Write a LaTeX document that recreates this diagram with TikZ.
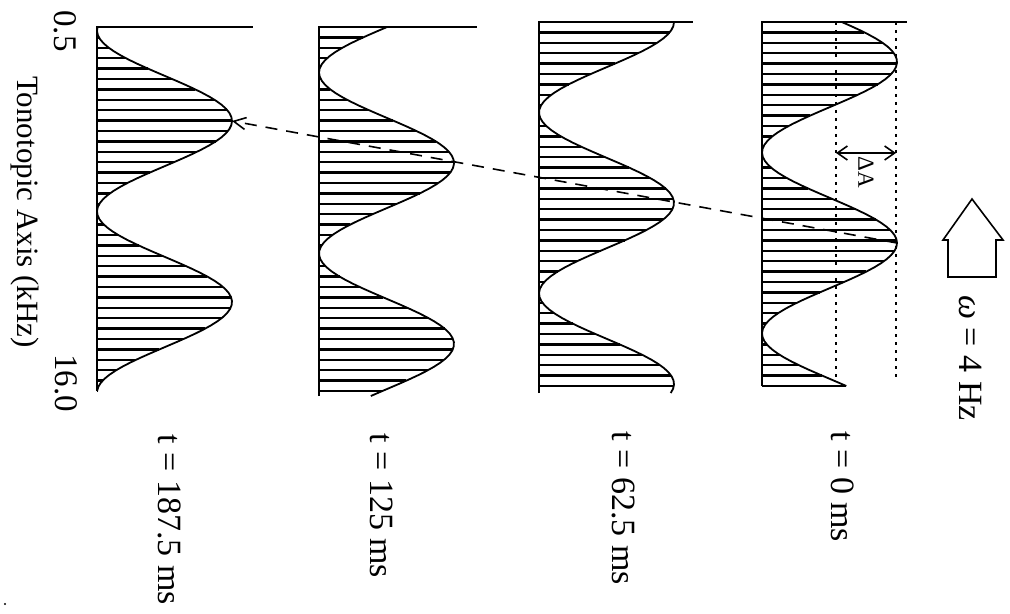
\documentclass[tikz,border=0pt]{standalone}
\usepackage{fontspec}
\setmainfont{Liberation Serif}
\usetikzlibrary{arrows.meta}

\begin{document}
\begin{tikzpicture}[x=0.5pt, y=-0.5pt,
    curve/.style={line width=0.9pt},
    hatch/.style={line width=1.2pt},
    guide/.style={line width=0.9pt, dash pattern=on 1.5pt off 2.5pt},
    trackline/.style={line width=0.8pt, dash pattern=on 6pt off 4.5pt, -{Straight Barb[length=6pt,width=6pt]}},
    lbl/.style={rotate=-90, inner sep=0pt, font=\fontsize{17}{20}\selectfont}]
  \useasboundingbox (0,0) rectangle (1010,614);

  % Panels: base x / top y / bottom y / peak y / end of top line / name
  \foreach \bx/\ty/\by/\py/\ex/\nm in {97/27/391/121/253/A, 319/27/396/163/477/B,
      539/22/393/203/693/C, 762/22/386/243/907/D} {
    \draw[curve] (\bx,\by) -- (\bx,\ty) -- (\ex,\ty);
    \draw[curve] plot[domain=\ty:\by, samples=90, variable=\t]
      ({\bx+67.5*(1+cos(1.98895*(\t-\py)))},\t);
    \pgfmathtruncatemacro\nh{(\by-\ty)/10.4}
    \foreach \k in {1,...,\nh} {
      \pgfmathsetmacro\yy{\ty+\k*10.4}
      \pgfmathsetmacro\xx{\bx+67.5*(1+cos(1.98895*(\yy-\py)))}
      \draw[hatch] (\bx,\yy) -- (\xx,\yy);
    }
    \coordinate (peak\nm) at (\bx+135,\py);
  }

  % Amplitude guides on the first panel
  \draw[guide] (836,22) -- (836,380);
  \draw[guide] (896,22) -- (896,380);
  \coordinate (dAl) at (836,153);
  \coordinate (dAr) at (896,153);
  \draw[line width=0.8pt, {Straight Barb[length=5pt,width=7pt]}-{Straight Barb[length=5pt,width=7pt]}] (dAl) -- (dAr);
  \node[lbl, font=\fontsize{11.5}{13}\selectfont] (dA) at (866,172) {ΔA};

  % Drift of the peak
  \draw[trackline] (peakD) -- (peakA);

  % Direction arrow
  \draw[line width=0.8pt] (948,277) -- (948,240) -- (943,240) -- (972,199)
    -- (1003,240) -- (996,240) -- (996,277) -- cycle;
  \node[lbl, anchor=west] (omega) at (971,295) {\textit{ω} = 4 Hz};

  % Time labels
  \node[lbl, anchor=west] (t0) at (843,431) {t = 0 ms};
  \node[lbl, anchor=west] (t1) at (624,431) {t = 62.5 ms};
  \node[lbl, anchor=west] (t2) at (382,433) {t = 125 ms};
  \node[lbl, anchor=west] (t3) at (170,434) {t = 187.5 ms};

  % Axis
  \node[lbl, font=\fontsize{16.5}{20}\selectfont] (lo) at (65,31) {0.5};
  \node[lbl, font=\fontsize{16.5}{20}\selectfont] (hi) at (66,383) {16.0};
  \node[lbl, font=\fontsize{15.5}{18}\selectfont] (axis) at (25,212) {Tonotopic Axis (kHz)};
  \fill (5,604) circle (1.2);
\end{tikzpicture}
\end{document}
